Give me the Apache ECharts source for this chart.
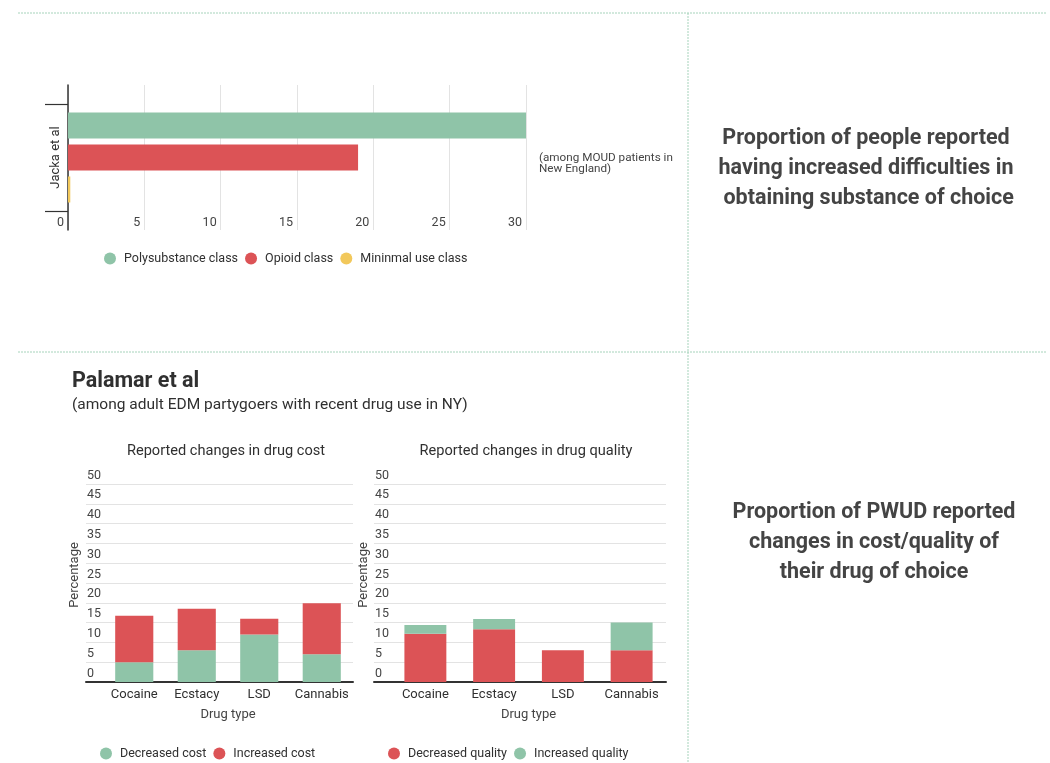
<!DOCTYPE html>
<html>
<head>
<meta charset="utf-8">
<script src="https://cdn.jsdelivr.net/npm/echarts@6/dist/echarts.min.js"></script>
<style>
  html, body { margin: 0; padding: 0; background: #fff; }
  #chart { width: 1050px; height: 763px; }
</style>
</head>
<body>
<div id="chart"></div>
<script>
// Jacka et al: share reporting increased difficulty obtaining their substance, by latent class
const jackaStudy = ['Jacka et al'];
const classNames = ['Polysubstance class', 'Opioid class', 'Mininmal use class'];
const classValues = [30, 19, 0.15];
const jackaScale = { min: 0, max: 30, interval: 5 };

// Palamar et al: reported changes in cost and quality, by drug (percent)
const drugTypes = ['Cocaine', 'Ecstacy', 'LSD', 'Cannabis'];
const decreasedCost = [5, 8, 12, 7];
const increasedCost = [11.7, 10.5, 4, 12.9];
const decreasedQuality = [12.2, 13.3, 8, 8];
const increasedQuality = [2.2, 2.6, 0, 7];
const percentScale = { min: 0, max: 50, interval: 5 };

const GREEN = '#8fc4a8';
const RED = '#dc5356';
const YELLOW = '#f2c85b';
const INK = '#303030';
const FONT = 'Roboto, "Noto Sans", sans-serif';

const chart = echarts.init(document.getElementById('chart'), null, { renderer: 'canvas' });

const gridLine = { show: true, lineStyle: { color: '#e3e3e3', width: 1 } };

// frame axes (gridlines + baseline) for the stacked-bar panels
function frameX(gridIndex) {
  return {
    type: 'category', gridIndex, data: drugTypes,
    axisLine: { show: true, lineStyle: { color: '#333', width: 2 } },
    axisTick: { show: false }, axisLabel: { show: false }, splitLine: { show: false }
  };
}
function frameY(gridIndex, nameGap) {
  return {
    type: 'value', gridIndex, ...percentScale,
    name: 'Percentage', nameLocation: 'middle', nameGap,
    nameTextStyle: { fontSize: 13, color: '#444', fontFamily: FONT, padding: [0, 0, 0, 16] },
    axisLine: { show: false }, axisTick: { show: false },
    axisLabel: {
      inside: true, margin: 1, verticalAlign: 'bottom', padding: [0, 0, 2, 0],
      fontSize: 12.5, color: '#444', fontFamily: FONT
    },
    splitLine: gridLine
  };
}
function barX(gridIndex) {
  return {
    type: 'category', gridIndex, data: drugTypes,
    name: 'Drug type', nameLocation: 'middle', nameGap: 26,
    nameTextStyle: { fontSize: 13, color: '#444', fontFamily: FONT },
    axisLine: { show: false }, axisTick: { show: false },
    axisLabel: { interval: 0, margin: 6, fontSize: 13, color: INK, fontFamily: FONT }
  };
}
function barY(gridIndex) {
  return { type: 'value', gridIndex, ...percentScale, show: false, splitLine: { show: false } };
}

const legendBase = {
  icon: 'circle', itemWidth: 14, itemHeight: 12, itemGap: 7,
  textStyle: { fontSize: 12.5, color: INK, fontFamily: FONT, padding: [0, 0, 0, 2] }
};

const dotted = { stroke: '#a6d3bb', lineWidth: 1, lineDash: [2, 1] };

const option = {
  animation: false,
  textStyle: { fontFamily: FONT },
  grid: [
    { left: 68, top: 85, width: 458, height: 145 },   // Jacka frame
    { left: 68, top: 104, width: 458, height: 107 },  // Jacka bars
    { left: 86, top: 484, width: 267, height: 198 },  // cost frame
    { left: 103, top: 484, width: 250, height: 198 }, // cost bars
    { left: 374, top: 484, width: 292, height: 198 }, // quality frame
    { left: 391, top: 484, width: 275, height: 198 }  // quality bars
  ],
  xAxis: [
    {
      type: 'value', gridIndex: 0, ...jackaScale,
      axisLine: { show: false }, axisTick: { show: false }, axisLabel: { show: false },
      splitLine: gridLine
    },
    {
      type: 'value', gridIndex: 1, ...jackaScale,
      axisLine: { show: false }, axisTick: { show: false }, splitLine: { show: false },
      axisLabel: { align: 'right', margin: 5, padding: [0, 4, 0, 0], fontSize: 12.5, color: '#444', fontFamily: FONT }
    },
    frameX(2), barX(3), frameX(4), barX(5)
  ],
  yAxis: [
    {
      type: 'value', gridIndex: 0, min: 0, max: 1,
      axisLine: { show: true, lineStyle: { color: '#333', width: 1.5 } },
      axisTick: { show: false }, axisLabel: { show: false }, splitLine: { show: false }
    },
    {
      type: 'category', gridIndex: 1, data: jackaStudy, inverse: true,
      axisLine: { show: false },
      axisTick: { show: true, length: 23, lineStyle: { color: '#333', width: 1.2 } },
      axisLabel: { rotate: 90, margin: 6, fontSize: 13, color: INK, fontFamily: FONT }
    },
    frameY(2, 5), barY(3), frameY(4, 4), barY(5)
  ],
  legend: [
    { ...legendBase, data: classNames, left: 99, top: 247 },
    { ...legendBase, data: ['Decreased cost', 'Increased cost'], left: 95, top: 742 },
    { ...legendBase, data: ['Decreased quality', 'Increased quality'], left: 383, top: 742 }
  ],
  series: [
    ...classNames.map((name, i) => ({
      type: 'bar', name, xAxisIndex: 1, yAxisIndex: 1,
      data: [classValues[i]], barWidth: 26, barGap: '23%',
      itemStyle: { color: [GREEN, RED, YELLOW][i] }
    })),
    {
      type: 'bar', name: 'Decreased cost', stack: 'cost', xAxisIndex: 3, yAxisIndex: 3,
      data: decreasedCost, barWidth: '61%', itemStyle: { color: GREEN }
    },
    {
      type: 'bar', name: 'Increased cost', stack: 'cost', xAxisIndex: 3, yAxisIndex: 3,
      data: increasedCost, barWidth: '61%', itemStyle: { color: RED }
    },
    {
      type: 'bar', name: 'Decreased quality', stack: 'quality', xAxisIndex: 5, yAxisIndex: 5,
      data: decreasedQuality, barWidth: '61%', itemStyle: { color: RED }
    },
    {
      type: 'bar', name: 'Increased quality', stack: 'quality', xAxisIndex: 5, yAxisIndex: 5,
      data: increasedQuality, barWidth: '61%', itemStyle: { color: GREEN }
    }
  ],
  graphic: [
    // panel separators
    { type: 'line', silent: true, shape: { x1: 18, y1: 13, x2: 1046, y2: 13 }, style: dotted },
    { type: 'line', silent: true, shape: { x1: 18, y1: 352, x2: 1046, y2: 352 }, style: dotted },
    { type: 'line', silent: true, shape: { x1: 688, y1: 13, x2: 688, y2: 763 }, style: dotted },

    // Jacka et al note
    {
      type: 'text', silent: true, x: 539, y: 153,
      style: {
        text: '(among MOUD patients in\nNew England)', fill: '#444',
        font: '11.7px ' + FONT, lineHeight: 11, align: 'left', verticalAlign: 'top'
      }
    },

    // Palamar et al heading
    {
      type: 'text', silent: true, x: 72, y: 382,
      style: { text: 'Palamar et al', fill: INK, font: 'bold 21.5px ' + FONT, align: 'left', verticalAlign: 'middle' }
    },
    {
      type: 'text', silent: true, x: 72, y: 405,
      style: {
        text: '(among adult EDM partygoers with recent drug use in NY)', fill: INK,
        font: '15.5px ' + FONT, align: 'left', verticalAlign: 'middle'
      }
    },
    {
      type: 'text', silent: true, x: 226, y: 451.5,
      style: { text: 'Reported changes in drug cost', fill: INK, font: '14.6px ' + FONT, align: 'center', verticalAlign: 'middle' }
    },
    {
      type: 'text', silent: true, x: 526, y: 451.5,
      style: { text: 'Reported changes in drug quality', fill: INK, font: '14.6px ' + FONT, align: 'center', verticalAlign: 'middle' }
    },

    // right-hand captions
    {
      type: 'text', silent: true, x: 866, y: 169,
      style: {
        text: 'Proportion of people reported\nhaving increased difficulties in\n obtaining substance of choice',
        fill: '#444', font: 'bold 21.5px ' + FONT, lineHeight: 30, align: 'center', verticalAlign: 'middle'
      }
    },
    {
      type: 'text', silent: true, x: 874, y: 543,
      style: {
        text: 'Proportion of PWUD reported\nchanges in cost/quality of\ntheir drug of choice',
        fill: '#444', font: 'bold 21.5px ' + FONT, lineHeight: 30, align: 'center', verticalAlign: 'middle'
      }
    }
  ]
};

chart.setOption(option);
</script>
</body>
</html>
